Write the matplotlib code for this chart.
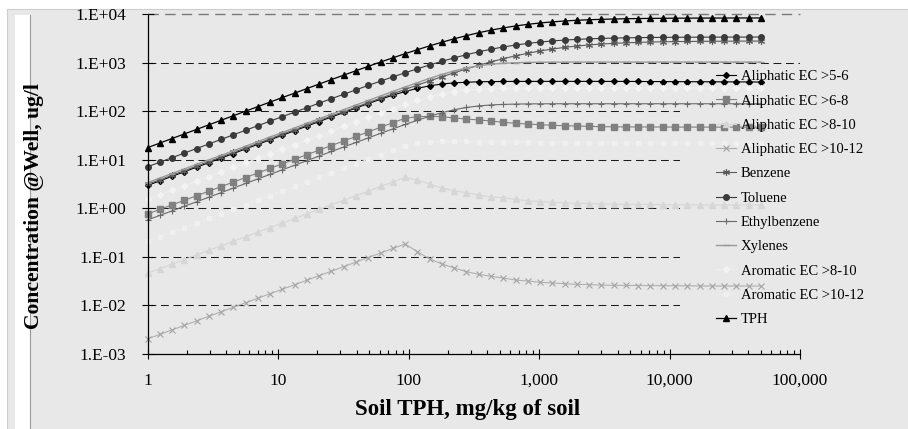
import matplotlib
matplotlib.use("Agg")
import math
import matplotlib.pyplot as plt
from matplotlib.patches import Rectangle
from matplotlib.lines import Line2D
from matplotlib.ticker import FixedLocator, FuncFormatter, LogLocator, NullLocator, NullFormatter

plt.rcParams['font.family'] = ['Liberation Serif', 'DejaVu Serif']

# ---------------- data ----------------
soil_tph = [1, 1.242, 1.542, 1.914, 2.377, 2.951, 3.664, 4.55, 5.649, 7.015, 8.71, 10.81,
            13.43, 16.67, 20.7, 25.7, 31.92, 39.63, 49.2, 61.09, 75.86, 94.19, 117.0, 145.2,
            180.3, 223.9, 278.0, 345.1, 428.5, 532.1, 660.7, 820.4, 1019, 1265, 1570, 1950,
            2421, 3006, 3733, 4634, 5754, 7145, 8872, 11015, 13677, 16982, 21086, 26182,
            32509, 40365, 50119]

aliphatic_5_6 = [2.95, 3.66, 4.55, 5.65, 7.01, 8.71, 10.8, 13.4, 16.7, 20.7, 25.7, 31.9, 39.6,
                 49.2, 61.1, 75.8, 93.8, 116, 143, 176, 213, 254, 295, 332, 362, 382, 394, 402,
                 406, 408, 409, 410, 410, 410, 410, 410, 410, 410, 409, 409, 408, 407, 406, 405,
                 404, 403, 402, 401, 400, 399, 398]
aliphatic_6_8 = [0.762, 0.946, 1.175, 1.458, 1.81, 2.25, 2.79, 3.47, 4.30, 5.35, 6.64, 8.24,
                 10.2, 12.7, 15.8, 19.6, 24.3, 30.2, 37.5, 46.5, 57.8, 71.3, 76.9, 78.3, 76.9,
                 72.3, 68.9, 65.8, 62.7, 58.9, 56.2, 54.3, 52.5, 51.1, 50.1, 49.4, 48.6, 47.9,
                 47.6, 47.4, 47.3, 47.2, 47.1, 47.0, 47.0, 46.9, 46.9, 46.8, 46.8, 46.8, 46.8]
aliphatic_8_10 = [0.046, 0.0571, 0.0709, 0.088, 0.109, 0.136, 0.169, 0.209, 0.260, 0.323, 0.401,
                  0.497, 0.618, 0.767, 0.952, 1.18, 1.47, 1.82, 2.26, 2.81, 3.49, 4.33, 3.82,
                  3.16, 2.62, 2.30, 2.09, 1.87, 1.73, 1.65, 1.53, 1.43, 1.36, 1.33, 1.30, 1.26,
                  1.25, 1.22, 1.22, 1.21, 1.21, 1.20, 1.19, 1.19, 1.18, 1.17, 1.17, 1.17, 1.17,
                  1.17, 1.17]
aliphatic_10_12 = [0.00204, 0.00253, 0.00313, 0.00388, 0.00481, 0.00597, 0.0074, 0.00916,
                   0.01135, 0.01406, 0.0174, 0.0216, 0.0267, 0.0331, 0.041, 0.0508, 0.0631,
                   0.0782, 0.0968, 0.120, 0.149, 0.184, 0.128, 0.0904, 0.0713, 0.059, 0.0495,
                   0.0437, 0.0398, 0.0367, 0.0333, 0.0318, 0.0299, 0.029, 0.028, 0.0272, 0.0267,
                   0.0263, 0.0259, 0.0258, 0.0257, 0.0256, 0.0255, 0.0254, 0.0253, 0.0251,
                   0.0251, 0.0251, 0.0251, 0.0251, 0.0251]
benzene = [3.10, 3.85, 4.78, 5.93, 7.37, 9.15, 11.4, 14.1, 17.5, 21.7, 27.0, 33.5, 41.6, 51.7,
           64.2, 79.1, 97.9, 121, 150, 185, 228, 280, 344, 420, 511, 617, 740, 880, 1034, 1202,
           1378, 1557, 1733, 1900, 2053, 2189, 2306, 2404, 2486, 2551, 2603, 2644, 2676, 2701,
           2720, 2735, 2745, 2754, 2761, 2765, 2769]
toluene = [7.16, 8.89, 11.0, 13.7, 17.0, 21.1, 26.2, 32.6, 40.4, 50.2, 62.4, 77.2, 95.5, 118,
           146, 181, 223, 275, 339, 415, 507, 617, 745, 894, 1062, 1250, 1452, 1665, 1881, 2094,
           2295, 2480, 2643, 2786, 2904, 3003, 3081, 3144, 3193, 3232, 3262, 3284, 3302, 3315,
           3326, 3334, 3339, 3344, 3348, 3350, 3352]
ethylbenzene = [0.574, 0.713, 0.885, 1.10, 1.36, 1.69, 2.10, 2.61, 3.24, 4.03, 5.00, 6.21, 7.71,
                9.57, 11.9, 14.8, 18.3, 22.7, 28.1, 34.9, 43.1, 53.1, 64.9, 78.4, 92.9, 106.9,
                119, 128.1, 134.1, 137.7, 139.8, 141, 141.6, 141.9, 142, 142, 142, 142, 142, 142,
                142, 142, 142, 142, 142, 142, 142, 142, 142, 142, 142]
xylenes = [3.37, 4.18, 5.20, 6.45, 8.01, 9.94, 12.3, 15.3, 19.0, 23.6, 29.4, 36.4, 45.3, 56.2,
           69.8, 86.6, 107.6, 133.6, 165.8, 205.4, 254, 314, 386, 472, 570, 674, 774, 860, 924,
           967, 992, 1007, 1014, 1019, 1021, 1023, 1023, 1023, 1023, 1023, 1023, 1023, 1023,
           1023, 1023, 1023, 1023, 1023, 1023, 1023, 1023]
aromatic_8_10 = [1.52, 1.89, 2.34, 2.91, 3.61, 4.49, 5.57, 6.92, 8.59, 10.7, 13.2, 16.4, 20.4,
                 25.3, 31.5, 39.1, 48.5, 60.2, 74.4, 92.0, 113.2, 138.4, 167, 197.4, 227, 252,
                 271, 283.3, 290.8, 295, 297.4, 298.6, 299.3, 299.7, 300, 300, 300, 300, 300,
                 300, 300, 300, 300, 300, 300, 300, 300, 300, 300, 300, 300]
aromatic_10_12 = [0.209, 0.260, 0.322, 0.400, 0.497, 0.617, 0.766, 0.951, 1.18, 1.47, 1.82, 2.26,
                  2.81, 3.48, 4.33, 5.37, 6.67, 8.28, 10.3, 12.8, 15.9, 19.0, 21.9, 23.4, 24.0,
                  24.0, 23.8, 23.6, 23.4, 23.2, 23.0, 22.8, 22.6, 22.5, 22.4, 22.3, 22.2, 22.1,
                  22.0, 22.0, 22.0, 22.0, 22.0, 22.0, 22.0, 22.0, 22.0, 22.0, 22.0, 22.0, 22.0]
tph = [17.7, 22.0, 27.3, 33.9, 42.1, 52.2, 64.9, 80.5, 100, 124, 154, 191, 235, 292, 362, 447,
       552, 680, 837, 1026, 1254, 1524, 1842, 2209, 2626, 3088, 3589, 4115, 4650, 5173, 5672,
       6130, 6534, 6884, 7177, 7421, 7614, 7770, 7893, 7988, 8062, 8120, 8163, 8195, 8221, 8240,
       8254, 8265, 8274, 8280, 8285]

series_labels = ["Aliphatic EC >5-6", "Aliphatic EC >6-8", "Aliphatic EC >8-10",
                 "Aliphatic EC >10-12", "Benzene", "Toluene", "Ethylbenzene", "Xylenes",
                 "Aromatic EC >8-10", "Aromatic EC >10-12", "TPH"]
series_values = [aliphatic_5_6, aliphatic_6_8, aliphatic_8_10, aliphatic_10_12, benzene,
                 toluene, ethylbenzene, xylenes, aromatic_8_10, aromatic_10_12, tph]

x_ticks = [1, 10, 100, 1000, 10000, 100000]
y_ticks = [1e-3, 1e-2, 1e-1, 1e0, 1e1, 1e2, 1e3, 1e4]

# ---------------- styles ----------------
styles = [
    dict(color='#000000', marker='D', ms=3.0, mfc='#000000', mec='#000000', lw=0.8),
    dict(color='#808080', marker='s', ms=4.5, mfc='#808080', mec='#808080', lw=0.8),
    dict(color='#d6d6d6', marker='^', ms=4.5, mfc='#d6d6d6', mec='#d6d6d6', lw=0.8),
    dict(color='#b0b0b0', marker='x', ms=4.0, mfc='none', mec='#a4a4a4', mew=0.8, lw=0.8),
    dict(color='#5a5a5a', marker=(6, 2, 0), ms=5.0, mec='#5a5a5a', mew=0.8, lw=0.8),
    dict(color='#3a3a3a', marker='o', ms=4.0, mfc='#3a3a3a', mec='#3a3a3a', lw=0.8),
    dict(color='#6a6a6a', marker='+', ms=5.0, mec='#6a6a6a', mew=0.8, lw=0.8),
    dict(color='#999999', marker='_', ms=5.0, mec='#999999', mew=1.0, lw=1.0),
    dict(color='#eeeeee', marker='D', ms=3.0, mfc='#f3f3f3', mec='#f3f3f3', lw=0.8),
    dict(color='#ececec', marker='s', ms=3.5, mfc='#f0f0f0', mec='#f0f0f0', lw=0.8),
    dict(color='#000000', marker='^', ms=4.5, mfc='#000000', mec='#000000', lw=0.9),
]

BG = '#e8e8e8'
W, H = 908, 429
fig = plt.figure(figsize=(9.08, 4.29), dpi=100, facecolor='white')


def px_rect(x0, y0, x1, y1, **kw):
    return Rectangle((x0 / W, 1 - y1 / H), (x1 - x0) / W, (y1 - y0) / H,
                     transform=fig.transFigure, **kw)


fig.patches.append(px_rect(7, 9, 912, 433, facecolor=BG, edgecolor='#cdcdcd', lw=0.8,
                           zorder=-10))
fig.patches.append(px_rect(15, 15, 30, 433, facecolor='white', edgecolor='none', zorder=-9))
fig.add_artist(Line2D([30.5 / W, 30.5 / W], [1 - 15 / H, 0], transform=fig.transFigure,
                      color='#9a9a9a', lw=0.8, zorder=-8))

ax = fig.add_axes([147.5 / W, 1 - 354 / H, (800 - 147.5) / W, 340 / H])
ax.set_facecolor('none')
ax.set_xscale('log')
ax.set_yscale('log')
ax.set_xlim(x_ticks[0], x_ticks[-1])
ax.set_ylim(y_ticks[0], y_ticks[-1])

dash = (0, (7.5, 4.5))
for v in y_ticks[1:-1]:
    ax.axhline(v, color='#1c1c1c', lw=0.75, ls=dash, zorder=0.6)
ax.axhline(y_ticks[-1], color='#7a7a7a', lw=1.0, ls=dash, zorder=0.6, clip_on=False)

# legend area box (covers gridlines, not data)
cover = px_rect(680, 66, 912, 342, facecolor=BG, edgecolor='none', zorder=1, clip_on=False)
ax.add_patch(cover)

handles = []
for lab, vals, st in zip(series_labels, series_values, styles):
    h, = ax.plot(soil_tph, vals, label=lab, zorder=2, clip_on=False, **st)
    handles.append(h)

for s in ['top', 'right']:
    ax.spines[s].set_visible(False)
for s in ['left', 'bottom']:
    ax.spines[s].set_linewidth(0.9)
    ax.spines[s].set_color('black')

ax.yaxis.set_major_locator(FixedLocator(y_ticks))
ax.yaxis.set_minor_locator(NullLocator())
ax.yaxis.set_major_formatter(FuncFormatter(lambda v, p: '1.E%+03d' % round(math.log10(v))))
ax.xaxis.set_major_locator(FixedLocator(x_ticks))
ax.xaxis.set_minor_locator(LogLocator(base=10, subs=[2, 3, 4, 5, 6, 7, 8, 9]))
ax.xaxis.set_minor_formatter(NullFormatter())
ax.xaxis.set_major_formatter(FuncFormatter(lambda v, p: f'{int(round(v)):,}'))

ax.tick_params(axis='y', which='major', direction='inout', length=9, width=0.8,
               pad=11, labelsize=12.5, colors='black')
ax.tick_params(axis='x', which='major', direction='inout', length=7, width=0.8,
               pad=10, labelsize=12.5, colors='black')
ax.tick_params(axis='x', which='minor', direction='in', length=3, width=0.8)

fig.text(468 / W, 1 - 410 / H, 'Soil TPH, mg/kg of soil', ha='center', va='center',
         fontsize=16.5, fontweight='bold')
fig.text(34 / W, 1 - 206 / H, 'Concentration @Well, ug/l', rotation=90, ha='center',
         va='center', fontsize=15.5, fontweight='bold')

fig.legend(handles, series_labels, loc='upper left', bbox_to_anchor=(716 / W, 1 - 70 / H),
           frameon=False, prop={'family': ['Liberation Serif'], 'size': 10.5}, numpoints=1,
           handlelength=1.35, handletextpad=0.35, labelspacing=0.76, borderpad=0,
           borderaxespad=0)

fig.savefig('out.png', dpi=100, facecolor='white')
